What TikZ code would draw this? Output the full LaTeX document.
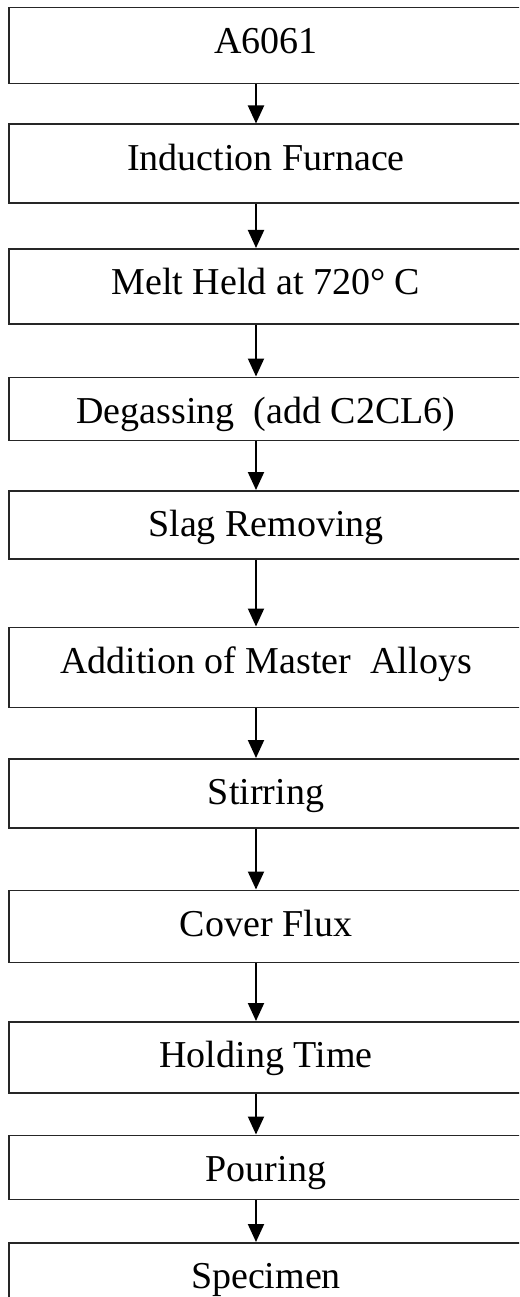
\documentclass[tikz,border=0pt]{standalone}
\usepackage{fontspec}
\setmainfont{Liberation Serif}
\usetikzlibrary{arrows.meta,positioning}

\begin{document}
\begin{tikzpicture}[every node/.style={font=\fontsize{38pt}{44pt}\selectfont},
  box/.style={draw=black!85,line width=1.5pt,minimum width=514pt,inner sep=0pt,text height=46pt,text depth=#1},
  arr/.style={line width=2pt,-{Triangle[length=18pt,width=16pt]}}]
  \useasboundingbox (0,0) rectangle (519pt,-1297pt);
  \clip (0,0) rectangle (519pt,-1297pt);
  \node[box=30pt,anchor=north] (alloy) at (266pt,-7pt) {A6061};
  \node[box=33pt,below=39pt of alloy] (furnace) {Induction Furnace};
  \node[box=29pt,below=44pt of furnace] (melt) {Melt Held at 720° C};
  \node[box=17pt,below=52pt of melt] (degas) {Degassing~~(add C2CL6)};
  \node[box=22pt,below=49pt of degas] (slag) {Slag Removing};
  \node[box=34pt,below=67pt of slag] (master) {Addition of Master~~Alloys};
  \node[box=23pt,below=50pt of master] (stir) {Stirring};
  \node[box=26pt,below=61pt of stir] (flux) {Cover Flux};
  \node[box=25pt,below=58pt of flux] (hold) {Holding Time};
  \node[box=18pt,below=41pt of hold] (pour) {Pouring};
  \node[box=44pt,below=42pt of pour] (spec) {Specimen};
  % process arrows
  \foreach \a/\b in {alloy/furnace,furnace/melt,melt/degas,degas/slag,slag/master,
    master/stir,stir/flux,flux/hold,hold/pour,pour/spec}
    \draw[arr] ([xshift=-10pt]\a.south) -- ([xshift=-10pt]\b.north);
\end{tikzpicture}
\end{document}
